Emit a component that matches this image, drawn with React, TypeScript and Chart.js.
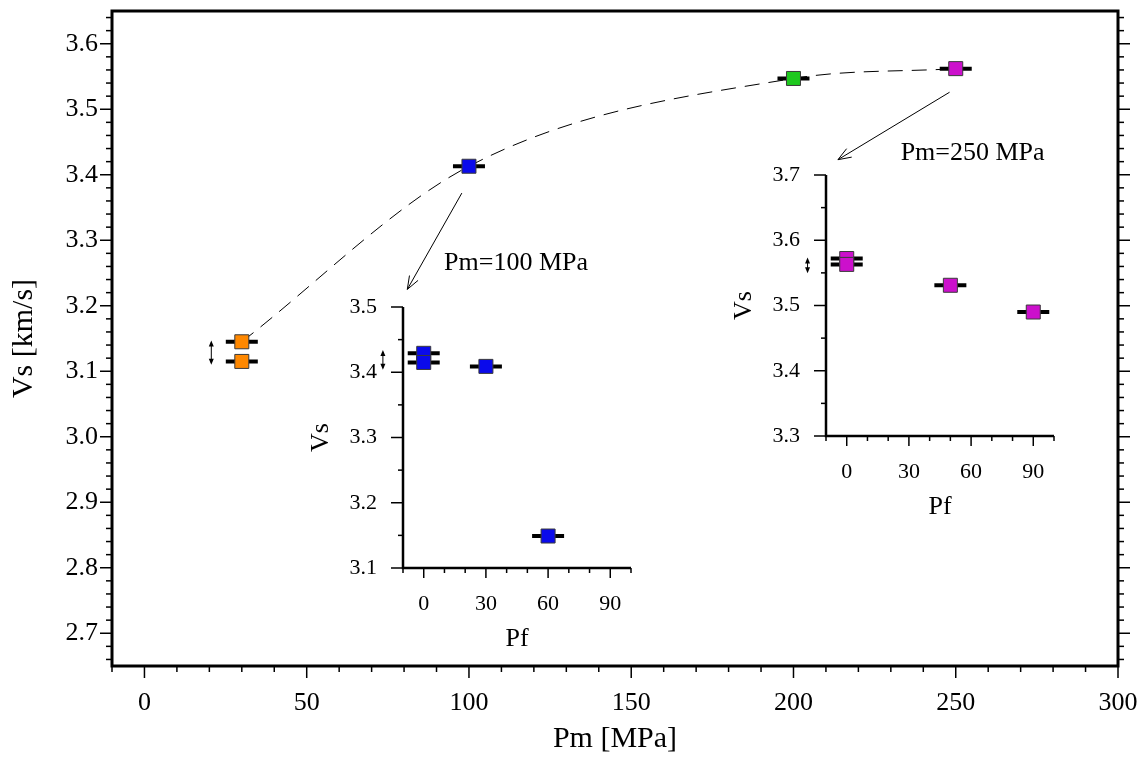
import React, { useEffect, useRef } from "react";
import { Chart, registerables } from "chart.js";

Chart.register(...registerables);

const SERIF = "'Liberation Serif', 'Times New Roman', Times, serif";

// ---------- main plot data ----------
const mainPm = [30, 30, 100, 200, 250];
const mainVs = [3.145, 3.115, 3.413, 3.547, 3.562];
const mainColors = ["#FF8800", "#FF8800", "#0A0AEB", "#1EC81E", "#CC10CC"];
const curvePm = [30, 100, 200, 250];
const curveVs = [3.145, 3.413, 3.547, 3.562];
const mainXTicks = [0, 50, 100, 150, 200, 250, 300];
const mainYTicks = [2.7, 2.8, 2.9, 3.0, 3.1, 3.2, 3.3, 3.4, 3.5, 3.6];

// ---------- inset Pm = 100 MPa ----------
const pf100 = [0, 0, 30, 60];
const vs100 = [3.429, 3.415, 3.409, 3.149];
const inset100YTicks = [3.1, 3.2, 3.3, 3.4, 3.5];

// ---------- inset Pm = 250 MPa ----------
const pf250 = [0, 0, 50, 90];
const vs250 = [3.572, 3.563, 3.531, 3.49];
const inset250YTicks = [3.3, 3.4, 3.5, 3.6, 3.7];

const insetXTicks = [0, 30, 60, 90];

// ---------- annotations (data coordinates of the main plot) ----------
const calloutText = ["Pm=100 MPa", "Pm=250 MPa"];
const calloutPm = [114.5, 255.2];
const calloutVs = [3.265, 3.433];
const arrowFromPm = [97.8, 248.1];
const arrowFromVs = [3.372, 3.526];
const arrowToPm = [81.0, 213.7];
const arrowToVs = [3.225, 3.423];

// small double-headed arrows (x, low, high)
const mainRange = [20.6, 3.11, 3.147];
const inset100Range = [-19.7, 3.404, 3.434];
const inset250Range = [-18.9, 3.5495, 3.5736];

const steps = (a: number, b: number, s: number) => {
  const out: number[] = [];
  const n = Math.round((b - a) / s);
  for (let i = 0; i <= n; i++) out.push(+(a + i * s).toFixed(6));
  return out;
};
const notIn = (list: number[]) => (v: number) => !list.some((m) => Math.abs(m - v) < 1e-6);

const mainXMinor = steps(-10, 300, 10).filter(notIn(mainXTicks));
const mainYMinor = steps(2.66, 3.64, 0.02).filter(notIn(mainYTicks));
const insetXMinor = steps(-10, 100, 10).filter(notIn(insetXTicks));
const inset100YMinor = steps(3.15, 3.45, 0.1);
const inset250YMinor = steps(3.35, 3.65, 0.1);

type AnyObj = Record<string, any>;

const decorPlugin = {
  id: "decor",
  beforeDatasetsDraw(chart: any, _args: any, o: AnyObj) {
    const ctx = chart.ctx;
    ctx.save();
    ctx.strokeStyle = "#000";
    ctx.lineWidth = o.errWidth;
    chart.data.datasets.forEach((ds: AnyObj, i: number) => {
      if (!ds.errBar) return;
      chart.getDatasetMeta(i).data.forEach((pt: any) => {
        ctx.beginPath();
        ctx.moveTo(pt.x - o.errHalf, pt.y);
        ctx.lineTo(pt.x + o.errHalf, pt.y);
        ctx.stroke();
      });
    });
    ctx.restore();
  },
  afterDraw(chart: any, _args: any, o: AnyObj) {
    const { ctx, chartArea: a } = chart;
    const xs = chart.scales.x;
    const ys = chart.scales.y;
    ctx.save();
    ctx.strokeStyle = "#000";
    ctx.fillStyle = "#000";
    const seg = (x1: number, y1: number, x2: number, y2: number) => {
      ctx.beginPath();
      ctx.moveTo(x1, y1);
      ctx.lineTo(x2, y2);
      ctx.stroke();
    };
    // ticks
    ctx.lineWidth = o.tickWidth;
    const xt = (list: number[], len: number) =>
      list.forEach((v) => {
        const p = xs.getPixelForValue(v);
        seg(p, a.bottom, p, a.bottom + len);
      });
    const yt = (list: number[], len: number) =>
      list.forEach((v) => {
        const p = ys.getPixelForValue(v);
        seg(a.left - len, p, a.left, p);
        if (o.rightTicks) seg(a.right, p, a.right + len, p);
      });
    xt(o.xMajor, o.xMajorLen);
    xt(o.xMinor, o.xMinorLen);
    yt(o.yMajor, o.yMajorLen);
    yt(o.yMinor, o.yMinorLen);
    // frame
    ctx.lineWidth = o.frameWidth;
    ctx.lineJoin = "miter";
    if (o.box) {
      ctx.strokeRect(a.left, a.top, a.right - a.left, a.bottom - a.top);
    } else {
      ctx.beginPath();
      ctx.moveTo(a.left, a.top);
      ctx.lineTo(a.left, a.bottom);
      ctx.lineTo(a.right, a.bottom);
      ctx.stroke();
    }
    // double-headed range arrow
    if (o.range) {
      const [rx, lo, hi] = o.range;
      const x = xs.getPixelForValue(rx);
      const y1 = ys.getPixelForValue(lo);
      const y2 = ys.getPixelForValue(hi);
      ctx.lineWidth = 1;
      seg(x, y1 - 2, x, y2 + 2);
      ctx.beginPath();
      ctx.moveTo(x, y2);
      ctx.lineTo(x - 2.5, y2 + 6);
      ctx.lineTo(x + 2.5, y2 + 6);
      ctx.closePath();
      ctx.fill();
      ctx.beginPath();
      ctx.moveTo(x, y1);
      ctx.lineTo(x - 2.5, y1 - 6);
      ctx.lineTo(x + 2.5, y1 - 6);
      ctx.closePath();
      ctx.fill();
    }
    // callout arrows
    if (o.arrows) {
      ctx.lineWidth = 1;
      o.arrows.fromX.forEach((_: number, i: number) => {
        const fx = xs.getPixelForValue(o.arrows.fromX[i]);
        const fy = ys.getPixelForValue(o.arrows.fromY[i]);
        const tx = xs.getPixelForValue(o.arrows.toX[i]);
        const ty = ys.getPixelForValue(o.arrows.toY[i]);
        seg(fx, fy, tx, ty);
        const ang = Math.atan2(fy - ty, fx - tx);
        const L = 14;
        const d = 0.36;
        seg(tx, ty, tx + L * Math.cos(ang + d), ty + L * Math.sin(ang + d));
        seg(tx, ty, tx + L * Math.cos(ang - d), ty + L * Math.sin(ang - d));
      });
    }
    // text callouts
    if (o.labels) {
      ctx.font = `26px ${SERIF}`;
      ctx.textAlign = "center";
      ctx.textBaseline = "middle";
      o.labels.text.forEach((t: string, i: number) => {
        ctx.fillText(t, xs.getPixelForValue(o.labels.x[i]), ys.getPixelForValue(o.labels.y[i]));
      });
    }
    ctx.restore();
  },
};

function scale(cfg: AnyObj) {
  return {
    type: "linear",
    position: cfg.position,
    min: cfg.min,
    max: cfg.max,
    afterBuildTicks: (s: any) => {
      s.ticks = cfg.ticks.map((v: number) => ({ value: v }));
    },
    afterFit: (s: any) => {
      if (cfg.position === "bottom") s.height = cfg.size;
      else s.width = cfg.size;
      s.paddingTop = 0;
      s.paddingBottom = 0;
      s.paddingLeft = 0;
      s.paddingRight = 0;
    },
    ticks: {
      autoSkip: false,
      maxRotation: 0,
      minRotation: 0,
      color: "#000",
      padding: cfg.pad,
      font: { family: SERIF, size: cfg.fontSize },
      callback: cfg.fmt,
    },
    grid: { display: false, drawTicks: false },
    border: { display: false },
    title: {
      display: true,
      text: cfg.title,
      color: "#000",
      font: { family: SERIF, size: cfg.titleSize },
      padding: cfg.titlePad,
    },
  };
}

const fmtInt = (v: any) => String(v);
const fmt1 = (v: any) => Number(v).toFixed(1);

const markerStyle = (colors: string | string[]) => ({
  pointStyle: "rect",
  pointRadius: 9.9,
  pointHoverRadius: 9.9,
  pointBackgroundColor: colors,
  pointBorderColor: "#3a3a3a",
  pointBorderWidth: 1,
  showLine: false,
  errBar: true,
});

function mainConfig(): any {
  return {
    type: "scatter",
    data: {
      datasets: [
        {
          type: "line",
          data: curvePm.map((x, i) => ({ x, y: curveVs[i] })),
          borderColor: "#000",
          borderWidth: 1,
          borderDash: [15, 9],
          pointRadius: 0,
          cubicInterpolationMode: "monotone",
          fill: false,
          order: 2,
        },
        {
          data: mainPm.map((x, i) => ({ x, y: mainVs[i] })),
          ...markerStyle(mainColors),
          order: 1,
        },
      ],
    },
    options: {
      animation: false,
      responsive: false,
      maintainAspectRatio: false,
      events: [],
      layout: { padding: { top: 11, right: 26, left: 0, bottom: 0 } },
      plugins: {
        legend: { display: false },
        tooltip: { enabled: false },
        decor: {
          errWidth: 4,
          errHalf: 16,
          tickWidth: 1.5,
          frameWidth: 3,
          box: true,
          rightTicks: true,
          xMajor: mainXTicks,
          xMinor: mainXMinor,
          yMajor: mainYTicks,
          yMinor: mainYMinor,
          xMajorLen: 12,
          xMinorLen: 6,
          yMajorLen: 12,
          yMinorLen: 6,
          range: mainRange,
          arrows: { fromX: arrowFromPm, fromY: arrowFromVs, toX: arrowToPm, toY: arrowToVs },
          labels: { text: calloutText, x: calloutPm, y: calloutVs },
        },
      },
      scales: {
        x: scale({
          position: "bottom", min: -10, max: 300, ticks: mainXTicks, size: 92, pad: 22,
          fontSize: 26, fmt: fmtInt, title: "Pm [MPa]", titleSize: 30, titlePad: { top: 0, bottom: 1 },
        }),
        y: scale({
          position: "left", min: 2.65, max: 3.65, ticks: mainYTicks, size: 112, pad: 14,
          fontSize: 26, fmt: fmt1, title: "Vs [km/s]", titleSize: 30, titlePad: { top: 6, bottom: 0 },
        }),
      },
    },
    plugins: [decorPlugin],
  };
}

function insetConfig(pf: number[], vs: number[], color: string, yMin: number, yMax: number, yTicks: number[], yMinor: number[], range: number[]): any {
  return {
    type: "scatter",
    data: {
      datasets: [
        {
          data: pf.map((x, i) => ({ x, y: vs[i] })),
          ...markerStyle(color),
        },
      ],
    },
    options: {
      animation: false,
      responsive: false,
      maintainAspectRatio: false,
      events: [],
      layout: { padding: { top: 27, right: 19, left: 0, bottom: 0 } },
      plugins: {
        legend: { display: false },
        tooltip: { enabled: false },
        decor: {
          errWidth: 4,
          errHalf: 16,
          tickWidth: 1.5,
          frameWidth: 2.5,
          box: false,
          rightTicks: false,
          xMajor: insetXTicks,
          xMinor: insetXMinor,
          yMajor: yTicks,
          yMinor: yMinor,
          xMajorLen: 10,
          xMinorLen: 5,
          yMajorLen: 12,
          yMinorLen: 5,
          range,
        },
      },
      scales: {
        x: scale({
          position: "bottom", min: -10, max: 100, ticks: insetXTicks, size: 92, pad: 23,
          fontSize: 22, fmt: fmtInt, title: "Pf", titleSize: 26, titlePad: { top: 0, bottom: 5 },
        }),
        y: scale({
          position: "left", min: yMin, max: yMax, ticks: yTicks, size: 113, pad: 26,
          fontSize: 22, fmt: fmt1, title: "Vs", titleSize: 26, titlePad: { top: 16, bottom: 0 },
        }),
      },
    },
    plugins: [decorPlugin],
  };
}

function ChartCanvas({ make, left, top, width, height }: { make: () => any; left: number; top: number; width: number; height: number }) {
  const ref = useRef<HTMLCanvasElement>(null);
  useEffect(() => {
    const chart = new Chart(ref.current as HTMLCanvasElement, make());
    return () => chart.destroy();
  }, []);
  return (
    <canvas
      ref={ref}
      width={width}
      height={height}
      style={{ position: "absolute", left, top, width, height }}
    />
  );
}

export default function App() {
  return (
    <div style={{ position: "fixed", left: 0, top: 0, width: 1144, height: 758, background: "#fff", overflow: "hidden" }}>
      <ChartCanvas make={mainConfig} left={0} top={0} width={1144} height={758} />
      <ChartCanvas
        make={() => insetConfig(pf100, vs100, "#0A0AEB", 3.1, 3.5, inset100YTicks, inset100YMinor, inset100Range)}
        left={290}
        top={280}
        width={360}
        height={380}
      />
      <ChartCanvas
        make={() => insetConfig(pf250, vs250, "#CC10CC", 3.3, 3.7, inset250YTicks, inset250YMinor, inset250Range)}
        left={713}
        top={148}
        width={360}
        height={380}
      />
    </div>
  );
}
